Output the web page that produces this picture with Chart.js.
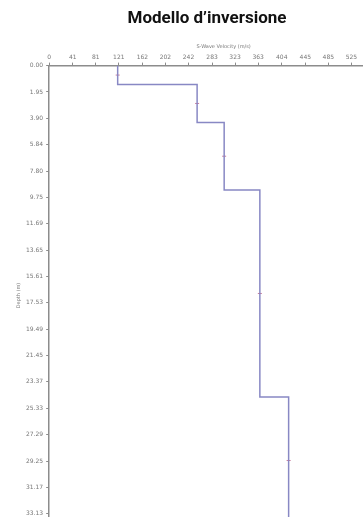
<!DOCTYPE html>
<html>
<head>
<meta charset="utf-8">
<script src="https://cdn.jsdelivr.net/npm/chart.js@4"></script>
<style>
  html, body { margin: 0; padding: 0; background: #fff; overflow: hidden; }
  #wrap { width: 414px; height: 532px; }
</style>
</head>
<body>
<div id="wrap"><canvas id="chart" width="414" height="532"></canvas></div>
<script>
  // S-wave velocity (m/s) per layer and depth of the layer bottom (m)
  const layerVelocity = [119, 257, 304, 366, 416];
  const layerBottom = [1.4, 4.2, 9.2, 24.5, 34];

  // axis tick labels as printed
  const velocityTicks = [0, 41, 81, 121, 162, 202, 242, 283, 323, 363, 404, 445, 485, 525, 566];
  const depthTicks = ['0.00', '1.95', '3.90', '5.84', '7.80', '9.75', '11.69', '13.65', '15.61',
    '17.53', '19.49', '21.45', '23.37', '25.33', '27.29', '29.25', '31.17', '33.13'];

  // build the step profile
  const profile = [];
  let layerTop = 0;
  layerVelocity.forEach((v, i) => {
    profile.push({ x: v, y: layerTop });
    profile.push({ x: v, y: layerBottom[i] });
    layerTop = layerBottom[i];
  });

  // small marks on each vertical segment
  const marks = layerVelocity.map((v, i) => ({
    x: v,
    y: i === layerVelocity.length - 1 ? 29.2 : ((i ? layerBottom[i - 1] : 0) + layerBottom[i]) / 2
  }));

  const axisGray = '#8c8c8c';
  const tickFont = { family: 'DejaVu Sans', size: 6 };

  new Chart(document.getElementById('chart'), {
    type: 'scatter',
    data: {
      datasets: [
        {
          label: 'Profilo Vs',
          data: profile,
          showLine: true,
          borderColor: '#8888c4',
          borderWidth: 1.5,
          pointRadius: 0,
          tension: 0
        },
        {
          label: 'marks',
          data: marks,
          pointStyle: 'line',
          pointRadius: 2,
          borderColor: '#c87c9c',
          borderWidth: 1
        }
      ]
    },
    options: {
      responsive: false,
      animation: false,
      layout: { padding: { left: 16, right: 16, top: 0, bottom: 0 } },
      plugins: {
        legend: { display: false },
        tooltip: { enabled: false },
        title: {
          display: true,
          text: 'Modello d’inversione',
          color: '#111',
          font: { family: 'Roboto', size: 17, weight: 'bold' },
          padding: { top: 9, bottom: 14 }
        }
      },
      scales: {
        x: {
          type: 'linear',
          position: 'top',
          min: 0,
          max: 606,
          afterBuildTicks: axis => { axis.ticks = velocityTicks.map(v => ({ value: v })); },
          ticks: { color: '#777', font: tickFont, padding: 2, maxRotation: 0, autoSkip: false },
          grid: { drawOnChartArea: false, tickLength: 3, color: axisGray },
          border: { color: axisGray, width: 1.5 },
          title: {
            display: true,
            text: 'S-Wave Velocity (m/s)',
            color: '#777',
            font: { family: 'DejaVu Sans', size: 5 },
            padding: { top: 0, bottom: 2 }
          }
        },
        y: {
          type: 'linear',
          reverse: true,
          min: 0,
          max: 34,
          afterBuildTicks: axis => {
            axis.ticks = depthTicks.map(t => ({ value: parseFloat(t) }));
          },
          ticks: {
            color: '#777',
            font: tickFont,
            padding: 3,
            autoSkip: false,
            callback: (v, i) => depthTicks[i]
          },
          grid: { drawOnChartArea: false, tickLength: 3, color: axisGray },
          border: { color: axisGray, width: 1.5 },
          title: {
            display: true,
            text: 'Depth (m)',
            color: '#777',
            font: { family: 'DejaVu Sans', size: 5 },
            padding: { top: 0, bottom: 1 }
          }
        }
      }
    }
  });
</script>
</body>
</html>
